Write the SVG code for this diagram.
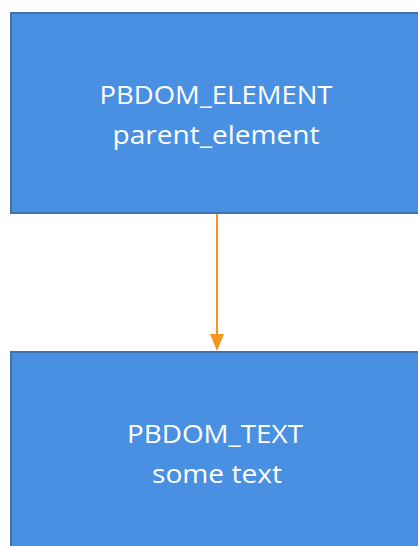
<svg xmlns="http://www.w3.org/2000/svg" width="418" height="546" viewBox="0 0 418 546">
<style>
.box{fill:#4a90e2;stroke:#3f73b0;stroke-width:2}
.t{font-family:"Open Sans","Noto Sans",sans-serif;font-size:25px;fill:#ffffff;text-anchor:middle}
.c{stroke:#f7941d;stroke-width:2;fill:none}
</style>
<g id="parent_element">
<rect class="box" x="11" y="13" width="412" height="200"/>
<text class="t" x="216" y="104" textLength="233" lengthAdjust="spacingAndGlyphs">PBDOM_ELEMENT</text>
<text class="t" x="216" y="144" textLength="207" lengthAdjust="spacingAndGlyphs">parent_element</text>
</g>
<g id="some_text">
<rect class="box" x="11" y="352" width="412" height="200"/>
<text class="t" x="215" y="443" textLength="176" lengthAdjust="spacingAndGlyphs">PBDOM_TEXT</text>
<text class="t" x="217" y="483" textLength="130" lengthAdjust="spacingAndGlyphs">some text</text>
</g>
<g id="connectors">
<line class="c" x1="217" y1="214" x2="217" y2="335"/>
<path d="M210,334 L224,334 L217,351 Z" fill="#f7941d"/>
</g>
</svg>
